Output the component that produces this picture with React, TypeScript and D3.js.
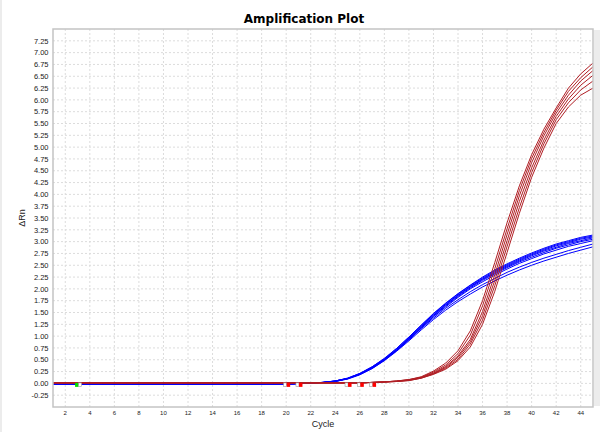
import React from 'react';
import * as d3 from 'd3';

const cycles = [1,2,3,4,5,6,7,8,9,10,11,12,13,14,15,16,17,18,19,20,21,22,23,24,25,26,27,28,29,30,31,32,33,34,35,36,37,38,39,40,41,42,43,44,45];

const blueSeries: number[][] = [
  [-0.01,-0.01,-0.01,-0.01,-0.01,-0.01,-0.01,-0.01,-0.01,-0.01,-0.01,-0.01,-0.01,-0.01,-0.01,-0.01,-0.01,-0.01,-0.01,-0.01,0.00,0.01,0.02,0.05,0.11,0.21,0.35,0.52,0.74,0.98,1.23,1.48,1.70,1.90,2.08,2.25,2.40,2.53,2.65,2.76,2.86,2.95,3.02,3.09,3.14],
  [-0.01,-0.01,-0.01,-0.01,-0.01,-0.01,-0.01,-0.01,-0.01,-0.01,-0.01,-0.01,-0.01,-0.01,-0.01,-0.01,-0.01,-0.01,-0.01,-0.01,0.00,0.01,0.02,0.05,0.11,0.21,0.35,0.53,0.74,0.98,1.23,1.47,1.69,1.89,2.07,2.23,2.38,2.51,2.63,2.74,2.84,2.93,3.00,3.07,3.12],
  [-0.01,-0.01,-0.01,-0.01,-0.01,-0.01,-0.01,-0.01,-0.01,-0.01,-0.01,-0.01,-0.01,-0.01,-0.01,-0.01,-0.01,-0.01,-0.01,-0.01,0.00,0.01,0.02,0.05,0.10,0.20,0.34,0.51,0.72,0.96,1.21,1.45,1.67,1.87,2.05,2.21,2.36,2.49,2.61,2.72,2.82,2.91,2.98,3.05,3.10],
  [-0.02,-0.02,-0.02,-0.02,-0.02,-0.02,-0.02,-0.02,-0.02,-0.02,-0.02,-0.02,-0.02,-0.02,-0.02,-0.02,-0.02,-0.02,-0.02,-0.02,-0.01,0.01,0.02,0.05,0.10,0.20,0.33,0.50,0.71,0.95,1.20,1.44,1.66,1.86,2.04,2.20,2.34,2.47,2.59,2.70,2.80,2.88,2.96,3.02,3.08],
  [-0.01,-0.01,-0.01,-0.01,-0.01,-0.01,-0.01,-0.01,-0.01,-0.01,-0.01,-0.01,-0.01,-0.01,-0.01,-0.01,-0.01,-0.01,-0.01,-0.01,0.00,0.01,0.02,0.05,0.10,0.19,0.33,0.50,0.70,0.94,1.18,1.42,1.64,1.84,2.02,2.18,2.32,2.45,2.57,2.67,2.77,2.86,2.93,3.00,3.05],
  [-0.02,-0.02,-0.02,-0.02,-0.02,-0.02,-0.02,-0.02,-0.02,-0.02,-0.02,-0.02,-0.02,-0.02,-0.02,-0.02,-0.02,-0.02,-0.02,-0.02,-0.01,0.01,0.02,0.04,0.10,0.19,0.32,0.49,0.70,0.93,1.17,1.41,1.62,1.82,2.00,2.15,2.29,2.42,2.54,2.64,2.74,2.82,2.90,2.96,3.02],
  [-0.01,-0.01,-0.01,-0.01,-0.01,-0.01,-0.01,-0.01,-0.01,-0.01,-0.01,-0.01,-0.01,-0.01,-0.01,-0.01,-0.01,-0.01,-0.01,-0.01,0.00,0.01,0.02,0.04,0.10,0.19,0.32,0.49,0.69,0.92,1.16,1.38,1.59,1.77,1.94,2.09,2.22,2.35,2.46,2.56,2.65,2.73,2.81,2.88,2.95],
  [-0.02,-0.02,-0.02,-0.02,-0.02,-0.02,-0.02,-0.02,-0.02,-0.02,-0.02,-0.02,-0.02,-0.02,-0.02,-0.02,-0.02,-0.02,-0.02,-0.02,-0.01,0.01,0.02,0.04,0.09,0.18,0.31,0.48,0.68,0.90,1.13,1.35,1.55,1.73,1.89,2.04,2.17,2.29,2.40,2.50,2.59,2.67,2.75,2.82,2.89],
];

const redSeries: number[][] = [
  [0.01,0.01,0.01,0.01,0.01,0.01,0.01,0.01,0.01,0.01,0.01,0.01,0.01,0.01,0.01,0.01,0.01,0.01,0.01,0.01,0.01,0.01,0.01,0.01,0.01,0.01,0.02,0.03,0.05,0.08,0.14,0.26,0.43,0.69,1.11,1.75,2.56,3.40,4.18,4.84,5.38,5.83,6.25,6.55,6.78],
  [0.01,0.01,0.01,0.01,0.01,0.01,0.01,0.01,0.01,0.01,0.01,0.01,0.01,0.01,0.01,0.01,0.01,0.01,0.01,0.01,0.01,0.01,0.01,0.01,0.01,0.01,0.02,0.03,0.05,0.08,0.13,0.24,0.39,0.63,1.02,1.64,2.43,3.27,4.08,4.76,5.31,5.78,6.18,6.47,6.70],
  [0.01,0.01,0.01,0.01,0.01,0.01,0.01,0.01,0.01,0.01,0.01,0.01,0.01,0.01,0.01,0.01,0.01,0.01,0.01,0.01,0.01,0.01,0.01,0.01,0.01,0.01,0.02,0.03,0.05,0.07,0.12,0.22,0.36,0.58,0.93,1.52,2.30,3.15,3.97,4.67,5.24,5.72,6.10,6.40,6.62],
  [0.01,0.01,0.01,0.01,0.01,0.01,0.01,0.01,0.01,0.01,0.01,0.01,0.01,0.01,0.01,0.01,0.01,0.01,0.01,0.01,0.01,0.01,0.01,0.01,0.01,0.01,0.02,0.03,0.04,0.07,0.12,0.21,0.34,0.55,0.88,1.43,2.18,3.02,3.85,4.56,5.15,5.65,6.02,6.31,6.52],
  [0.01,0.01,0.01,0.01,0.01,0.01,0.01,0.01,0.01,0.01,0.01,0.01,0.01,0.01,0.01,0.01,0.01,0.01,0.01,0.01,0.01,0.01,0.01,0.01,0.01,0.01,0.02,0.03,0.04,0.06,0.11,0.20,0.32,0.51,0.83,1.34,2.07,2.90,3.72,4.46,5.07,5.58,5.94,6.21,6.40],
  [0.01,0.01,0.01,0.01,0.01,0.01,0.01,0.01,0.01,0.01,0.01,0.01,0.01,0.01,0.01,0.01,0.01,0.01,0.01,0.01,0.01,0.01,0.01,0.01,0.01,0.01,0.02,0.03,0.04,0.06,0.11,0.19,0.30,0.48,0.77,1.25,1.95,2.77,3.60,4.36,4.98,5.50,5.85,6.10,6.25],
];

const yTicks = [-0.25,0,0.25,0.5,0.75,1,1.25,1.5,1.75,2,2.25,2.5,2.75,3,3.25,3.5,3.75,4,4.25,4.5,4.75,5,5.25,5.5,5.75,6,6.25,6.5,6.75,7,7.25];
const xTicks = [2,4,6,8,10,12,14,16,18,20,22,24,26,28,30,32,34,36,38,40,42,44];
const startMarkerCycles = [3];
const endMarkerCycles = [20,21,25,26,27];

const W = 600;
const H = 432;
const left = 53, right = 593, top = 29, bottom = 407;

export default function App() {
  const x = d3.scaleLinear().domain([1, 45]).range([left, right]);
  const y = d3.scaleLinear().domain([-0.5, 7.5]).range([bottom, top]);
  const line = d3.line<number>().x((_, i) => x(cycles[i])).y((d) => y(d));
  const sans = "'Liberation Sans', Arial, sans-serif";
  const markerY = y(0) + 1.5;
  return (
    <svg width={W} height={H} style={{ position: 'absolute', left: 0, top: 0, background: '#fff' }}>
      <rect x={0} y={0} width={W} height={H} fill="#fff" />
      <rect x={0} y={0} width={2} height={H} fill="#ececec" />
      <rect x={594} y={30} width={6} height={376} fill="#ececec" />
      <text x={304} y={23} textAnchor="middle" fontFamily="'DejaVu Sans', sans-serif" fontWeight="bold" fontSize={12} fill="#000">Amplification Plot</text>
      <g>
        {yTicks.map((t) => (
          <line key={'gy' + t} x1={left} x2={right} y1={y(t)} y2={y(t)} stroke="#dcdcdc" strokeWidth={1} strokeDasharray="2,2" />
        ))}
        {xTicks.map((t) => (
          <line key={'gx' + t} x1={x(t)} x2={x(t)} y1={top} y2={bottom} stroke="#dcdcdc" strokeWidth={1} strokeDasharray="2,2" />
        ))}
      </g>
      <g fill="none" strokeWidth={1} strokeLinejoin="round">
        {blueSeries.map((s, i) => (
          <path key={'b' + i} d={line(s) || ''} stroke="#0000ff" />
        ))}
        {redSeries.map((s, i) => (
          <path key={'r' + i} d={line(s) || ''} stroke="#b01e24" />
        ))}
      </g>
      <g>
        {startMarkerCycles.map((c) => (
          <g key={'sm' + c}>
            <rect x={x(c) - 2.5} y={markerY - 2} width={3.5} height={4} fill="#00e000" />
            <rect x={x(c) + 1} y={markerY - 2} width={3} height={3.5} fill="#fff" stroke="#999" strokeWidth={0.6} />
          </g>
        ))}
        {endMarkerCycles.map((c) => (
          <g key={'em' + c}>
            <rect x={x(c) - 2.5} y={markerY - 2} width={3} height={3.5} fill="#fff" stroke="#999" strokeWidth={0.6} />
            <rect x={x(c) + 0.5} y={markerY - 2} width={3.5} height={4} fill="#ff0000" />
          </g>
        ))}
      </g>
      <rect x={left} y={top} width={right - left} height={bottom - top} fill="none" stroke="#c4c4c4" strokeWidth={1.5} />
      <g fontFamily={sans} fontSize={7.5} fill="#222">
        {yTicks.map((t) => (
          <text key={'ty' + t} x={48.5} y={y(t) + 2.7} textAnchor="end">{t.toFixed(2)}</text>
        ))}
      </g>
      <g fontFamily={sans} fontSize={6} fill="#222">
        {xTicks.map((t) => (
          <text key={'tx' + t} x={x(t)} y={415} textAnchor="middle">{t}</text>
        ))}
      </g>
      <text x={323} y={427} textAnchor="middle" fontFamily={sans} fontSize={9} fill="#222">Cycle</text>
      <text transform={`translate(25,${(top + bottom) / 2}) rotate(-90)`} textAnchor="middle" fontFamily={sans} fontSize={9} fill="#222">ΔRn</text>
    </svg>
  );
}
